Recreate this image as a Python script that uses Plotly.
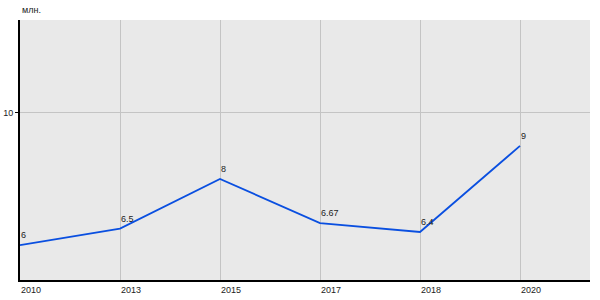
import plotly.graph_objects as go

years = ["2010", "2013", "2015", "2017", "2018", "2020"]
values = [6, 6.5, 8, 6.67, 6.4, 9]
labels = ["6", "6.5", "8", "6.67", "6.4", "9"]

xs = list(range(len(years)))
fig = go.Figure()
fig.add_trace(go.Scatter(
    x=xs, y=values, mode="lines",
    line=dict(color="#0a4fe0", width=1.8),
    hoverinfo="skip"
))
anns = [dict(text="млн.", x=0, y=1, xref="paper", yref="paper",
             xanchor="left", yanchor="bottom", yshift=3, showarrow=False,
             font=dict(size=9, color="#222"))]
for xi, yi, t in zip(xs, values, labels):
    anns.append(dict(text=t, x=xi, y=yi, xref="x", yref="y", xanchor="left",
                     yanchor="bottom", xshift=-1, yshift=3, showarrow=False,
                     font=dict(family="Arial, Liberation Sans", size=9, color="#222")))
fig.update_layout(
    width=600, height=300,
    margin=dict(l=20, r=10, t=20, b=20),
    paper_bgcolor="white", plot_bgcolor="#e9e9e9",
    showlegend=False,
    font=dict(family="Arial, Liberation Sans", size=9, color="#222"),
    annotations=anns,
)
fig.update_xaxes(
    range=[0, 5.7], tickmode="array", tickvals=xs, ticktext=years,
    showgrid=True, gridcolor="#c4c4c4", gridwidth=1,
    showline=True, linecolor="black", linewidth=2, zeroline=False,
    ticks="", ticklen=0, tickfont=dict(size=9), automargin=False,
    ticklabelposition="outside right",
)
fig.update_yaxes(
    range=[4.95, 12.8], tickmode="array", tickvals=[10], ticktext=["10"],
    showgrid=True, gridcolor="#c4c4c4", gridwidth=1,
    showline=True, linecolor="black", linewidth=2, zeroline=False,
    ticks="outside", ticklen=3, tickcolor="black", tickfont=dict(size=9),
    automargin=False,
)
fig.write_html("out.html")
